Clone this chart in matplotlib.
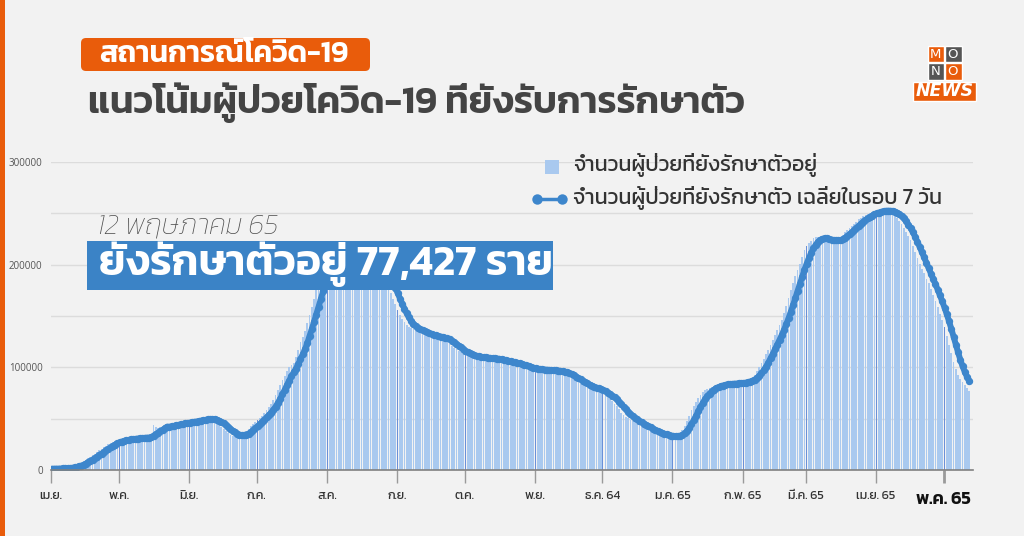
import matplotlib
matplotlib.use("Agg")
import matplotlib.pyplot as plt
from matplotlib.patches import Rectangle, FancyBboxPatch
import numpy as np
import pandas as pd

# daily active cases (thousands), 1 Apr 2021 - 12 May 2022
apr21 = [1.2, 1.3, 1.4, 1.5, 1.6, 1.8, 2.0, 2.3, 2.6, 3.0,
         3.8, 4.8, 6.0, 7.2, 8.5, 10.0, 11.5, 13.0, 14.5, 16.0,
         17.5, 19.0, 20.5, 22.0, 23.5, 25.0, 26.5, 27.5, 28.0, 28.5]
may21 = [29, 29.5, 30, 30, 30.5, 30.5, 31, 31, 31.5, 31.5,
         32, 32, 31.5, 31.5, 32, 44, 42, 41, 41.5, 42,
         42, 43, 43.5, 44, 44.5, 45, 45.5, 46, 46, 46.5, 47]
jun21 = [47, 47.5, 48, 48.5, 49, 49.5, 50, 50, 50, 49.5,
         49, 48, 46, 44, 42, 40, 38, 36, 34.5, 33.5,
         33, 33, 33.5, 34.5, 36, 38, 40, 43, 45, 47]
jul21 = [49, 51, 53, 55.5, 58, 61, 64, 68, 73, 78,
         83, 88, 92, 96, 100, 102, 104, 110, 117, 125,
         130, 135, 143, 151, 159, 167, 175, 182, 189, 195, 200]
aug21 = [203, 205, 207, 208, 209, 210, 211, 212, 213, 213,
         214, 214, 214, 215, 215, 215, 214, 213, 212, 210,
         207, 204, 200, 196, 192, 188, 183, 178, 172, 167, 162]
sep21 = [156, 151, 147, 144, 141, 139, 138, 137, 136, 135,
         134, 133, 132, 131.5, 131, 130.5, 130, 129.5, 129, 128.5,
         128, 127, 125, 123, 121, 119, 117.5, 116, 114.5, 113]
oct21 = [112, 111.5, 111, 110.5, 110, 110, 109.5, 109.5, 109, 109,
         109, 109, 108.5, 108, 107.5, 107, 106.5, 106, 105.5, 105,
         104.5, 104, 104, 103, 102, 101, 100, 99.5, 99, 98.5, 98]
nov21 = [98, 98, 97.5, 97.5, 97.5, 97, 97, 97, 97, 96.5,
         96, 95.5, 95, 94, 92.5, 91, 89.5, 88, 87, 85.5,
         84, 83, 82, 81, 80, 79.5, 78.5, 78, 77, 76]
dec21 = [74.5, 73, 71, 69, 67, 64.5, 62, 59, 56, 54,
         52, 50.5, 49, 47.5, 46.5, 45, 44, 43, 41.5, 40,
         39, 38, 37, 36, 35, 34.5, 34, 33.5, 33, 32.5, 32.5]
jan22 = [32.5, 33, 34, 36, 39, 43, 48, 53, 58, 62,
         66, 70, 73, 75.5, 77.5, 79, 80, 81, 82, 82.5,
         83, 83.5, 84, 84, 84, 84, 84.5, 84.5, 84.5, 85, 85]
feb22 = [85.5, 86.5, 87.5, 89, 90.5, 92.5, 96, 100, 104, 108.5,
         113, 117, 122, 127, 131.5, 136, 141, 146, 153, 160,
         167.5, 175, 182, 189, 195, 201, 207.5, 214]
mar22 = [218, 221, 223.5, 225.5, 226.5, 227, 227, 226, 224.5, 223,
         222, 222, 223, 224.5, 226, 227, 229, 231.5, 234, 236,
         238, 240, 242, 244, 245.5, 247, 248, 249, 250, 251, 252]
apr22 = [252.5, 253, 253, 253, 252.5, 252, 251.5, 251.5, 249, 245.5,
         243, 240, 236, 232, 228, 224, 218, 212, 206.5, 201,
         196, 191.5, 186.5, 182, 176, 170, 164.5, 159, 152, 146]
may22 = [139.5, 131, 122, 113.5, 105, 98, 93, 89, 86, 83, 80, 77.427]

month_labels = ['เม.ย.', 'พ.ค.', 'มิ.ย.', 'ก.ค.', 'ส.ค.', 'ก.ย.', 'ต.ค.', 'พ.ย.',
                'ธ.ค. 64', 'ม.ค. 65', 'ก.พ. 65', 'มี.ค. 65', 'เม.ย. 65', 'พ.ค. 65']
yticks = [0, 100000, 200000, 300000]

legend_bar = 'จำนวนผู้ป่วยที่ยังรักษาตัวอยู่'
legend_line = 'จำนวนผู้ป่วยที่ยังรักษาตัว เฉลี่ยในรอบ 7 วัน'
tag = 'สถานการณ์โควิด-19'
title = 'แนวโน้มผู้ป่วยโควิด-19 ที่ยังรับการรักษาตัว'
date_text = '12 พฤษภาคม 65'
headline = 'ยังรักษาตัวอยู่ 77,427 ราย'

months = [apr21, may21, jun21, jul21, aug21, sep21, oct21, nov21, dec21,
          jan22, feb22, mar22, apr22, may22]
dates = pd.date_range('2021-04-01', '2022-05-12')
cases = pd.Series(np.concatenate(months) * 1000, index=dates)
avg7 = cases.rolling(7, min_periods=1).mean()

BG = '#f2f2f2'
ORANGE = '#e95c0b'
BAR = '#a9c9ef'
LINE = '#3d86cc'
MONTHLINE = '#6a90d8'

fig = plt.figure(figsize=(10.24, 5.36), dpi=100, facecolor=BG)

# chart area (pixel box 51..973 x 162..470)
ax = fig.add_axes([51 / 1024, 66 / 536, 922 / 1024, 308 / 536])
ax.set_facecolor('none')

x = np.arange(len(cases))
first = dates.day == 1
colors = np.where(first, MONTHLINE, BAR)
widths = np.where(first, 0.45, 0.78)
ax.bar(x, cases.values, width=widths, align='edge', color=colors, linewidth=0, zorder=2)
ax.plot(x + 0.4, avg7.values, color=LINE, lw=4.3, marker='o', ms=5.3, mew=0, zorder=3)

ax.set_xlim(0, 408)
ax.set_ylim(0, 300000)
ax.set_yticks(yticks)
ax.set_yticks(np.arange(50000, 300000, 100000), minor=True)
ax.set_yticklabels([str(v) for v in yticks], fontsize=7, color='#555555', family='Open Sans')
ax.tick_params(axis='y', which='both', length=0, pad=6)
ax.grid(axis='y', which='both', color='#dcdcdc', lw=1)
ax.set_axisbelow(True)

tick_pos = [i for i, d in enumerate(dates) if d.day == 1]
ax.set_xticks(tick_pos)
ax.set_xticklabels(month_labels, family='Kanit', fontsize=9, color='#333333')
ax.tick_params(axis='x', length=9, width=1, color='#9a9a9a', pad=6)
last = ax.xaxis.get_major_ticks()[-1]
last.tick1line.set_color('#444444')
last.tick1line.set_markeredgewidth(2)
last.label1.set_fontsize(13)
last.label1.set_fontweight('semibold')
last.label1.set_color('#111111')

for s in ['top', 'right', 'left']:
    ax.spines[s].set_visible(False)
ax.spines['bottom'].set_color('#808080')
ax.spines['bottom'].set_linewidth(1.2)
ax.spines['bottom'].set_zorder(4)

# overlay in pixel coordinates for the decorations
ov = fig.add_axes([0, 0, 1, 1], zorder=5)
ov.set_xlim(0, 1024)
ov.set_ylim(536, 0)
ov.axis('off')
ov.patch.set_alpha(0)

ov.add_patch(Rectangle((0, 0), 5, 536, color=ORANGE, lw=0))

ov.add_patch(FancyBboxPatch((81, 38), 289, 33, boxstyle='round,pad=0,rounding_size=5',
                            fc=ORANGE, ec='none'))
ov.text(224, 54, tag, ha='center', va='center', color='white', family='Kanit',
        weight='semibold', fontsize=21.5)
ov.text(88, 103, title, ha='left', va='center', color='#444444', family='Kanit',
        weight='semibold', fontsize=27.3)

# logo
ov.add_patch(Rectangle((927.5, 45.5), 16, 16.5, fc=ORANGE, ec='white', lw=1))
ov.add_patch(Rectangle((944.5, 45.5), 17, 16.5, fc='#555555', ec='white', lw=1))
ov.add_patch(Rectangle((927.5, 63), 16, 17, fc='#555555', ec='white', lw=1))
ov.add_patch(Rectangle((944.5, 63), 17, 17, fc=ORANGE, ec='white', lw=1))
for lx, ly, ch in [(935.5, 54.2, 'M'), (953, 54.2, 'O'), (935.5, 71.7, 'N'), (953, 71.7, 'O')]:
    ov.text(lx, ly, ch, ha='center', va='center', color='white', family='DejaVu Sans',
            fontsize=9.5)
ov.add_patch(Rectangle((913, 81.5), 63, 19, fc=ORANGE, ec='white', lw=1))
ov.text(944.5, 91.5, 'NEWS', ha='center', va='center', color='white', family='DejaVu Sans',
        weight='bold', style='italic', fontsize=12.5)

# legend
ov.add_patch(Rectangle((545, 160), 14, 14, fc=BAR, ec='none'))
ov.text(573, 165, legend_bar, ha='left', va='center', color='#333333', family='Kanit',
        fontsize=15.5)
ov.plot([537, 562], [199, 199], color=LINE, lw=2.5, marker='o', ms=7.5, mew=0)
ov.text(573, 198, legend_line, ha='left', va='center', color='#333333', family='Kanit',
        fontsize=15.5)

# headline
ov.text(97, 227, date_text, ha='left', va='center', color='#4a4a4a', family='Kanit',
        weight='light', style='italic', fontsize=20.3)
ov.add_patch(Rectangle((87, 241), 466, 49, fc='#3b83c6', ec='none'))
ov.text(99, 264, headline, ha='left', va='center', color='white', family='Kanit',
        weight='semibold', fontsize=30.8)

fig.savefig('out.png', dpi=100, facecolor=BG)
